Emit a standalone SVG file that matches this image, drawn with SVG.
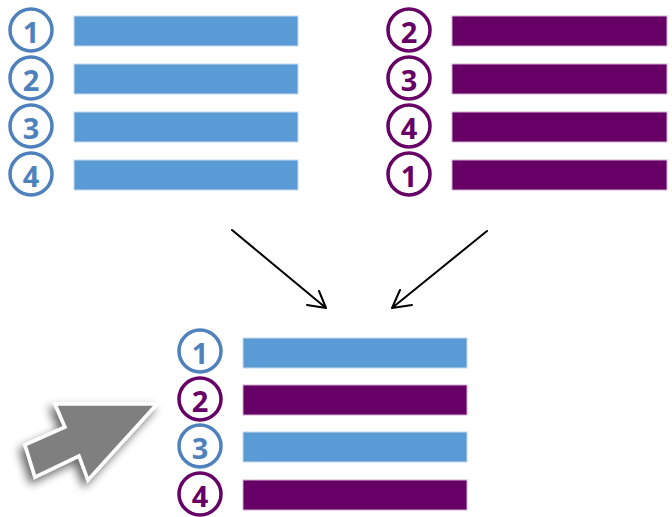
<svg xmlns="http://www.w3.org/2000/svg" width="672" height="517" viewBox="0 0 672 517">
  <defs>
    <style>
      .bar-b { fill: #5B9BD5; stroke: #c5d9ee; stroke-width: 1; }
      .bar-p { fill: #660066; stroke: #d0b0d0; stroke-width: 1; }
      .ring-b { fill: #ffffff; stroke: #4F81BD; stroke-width: 3.5; }
      .ring-p { fill: #ffffff; stroke: #660066; stroke-width: 3.5; }
      .num { font-family: "Open Sans", "Liberation Sans", sans-serif; font-weight: bold; font-size: 29px; text-anchor: middle; dominant-baseline: central; }
      .num-b { fill: #4F81BD; }
      .num-p { fill: #660066; }
      .conn { fill: none; stroke: #000000; stroke-width: 2; stroke-linecap: round; stroke-linejoin: round; }
    </style>
    <filter id="softShadow" x="-40%" y="-40%" width="180%" height="180%">
      <feGaussianBlur in="SourceAlpha" stdDeviation="5"/>
      <feOffset dx="-4" dy="5" result="blur"/>
      <feComponentTransfer><feFuncA type="linear" slope="0.6"/></feComponentTransfer>
      <feMerge><feMergeNode/><feMergeNode in="SourceGraphic"/></feMerge>
    </filter>
  </defs>
  <rect width="672" height="517" fill="#ffffff"/>

  <!-- first list: 1,2,3,4 (blue) -->
  <g id="list-a">
    <g id="a1"><rect class="bar-b" x="74" y="16" width="224" height="30"/><circle class="ring-b" cx="31" cy="30" r="21"/><text class="num num-b" x="31" y="31">1</text></g>
    <g id="a2"><rect class="bar-b" x="74" y="64" width="224" height="30"/><circle class="ring-b" cx="31" cy="78" r="21"/><text class="num num-b" x="31" y="79">2</text></g>
    <g id="a3"><rect class="bar-b" x="74" y="112" width="224" height="30"/><circle class="ring-b" cx="31" cy="126" r="21"/><text class="num num-b" x="31" y="127">3</text></g>
    <g id="a4"><rect class="bar-b" x="74" y="160" width="224" height="30"/><circle class="ring-b" cx="31" cy="174" r="21"/><text class="num num-b" x="31" y="175">4</text></g>
  </g>

  <!-- second list: 2,3,4,1 (purple) -->
  <g id="list-b">
    <g id="b2"><rect class="bar-p" x="452" y="16" width="215" height="30"/><circle class="ring-p" cx="409" cy="30" r="21"/><text class="num num-p" x="409" y="31">2</text></g>
    <g id="b3"><rect class="bar-p" x="452" y="64" width="215" height="30"/><circle class="ring-p" cx="409" cy="78" r="21"/><text class="num num-p" x="409" y="79">3</text></g>
    <g id="b4"><rect class="bar-p" x="452" y="112" width="215" height="30"/><circle class="ring-p" cx="409" cy="126" r="21"/><text class="num num-p" x="409" y="127">4</text></g>
    <g id="b1"><rect class="bar-p" x="452" y="160" width="215" height="30"/><circle class="ring-p" cx="409" cy="174" r="21"/><text class="num num-p" x="409" y="175">1</text></g>
  </g>

  <!-- merged list -->
  <g id="list-merged">
    <g id="m1"><rect class="bar-b" x="243" y="338" width="224" height="30"/><circle class="ring-b" cx="200" cy="351" r="21"/><text class="num num-b" x="200" y="352">1</text></g>
    <g id="m2"><rect class="bar-p" x="243" y="385" width="224" height="30"/><circle class="ring-p" cx="200" cy="399" r="21"/><text class="num num-p" x="200" y="400">2</text></g>
    <g id="m3"><rect class="bar-b" x="243" y="432" width="224" height="30"/><circle class="ring-b" cx="200" cy="446" r="21"/><text class="num num-b" x="200" y="447">3</text></g>
    <g id="m4"><rect class="bar-p" x="243" y="480" width="224" height="30"/><circle class="ring-p" cx="200" cy="494" r="21"/><text class="num num-p" x="200" y="495">4</text></g>
  </g>

  <!-- connectors -->
  <g id="connectors">
    <path class="conn" d="M232,230 L326,308 M307,305 L326,308 L319,291"/>
    <path class="conn" d="M487,231 L392,308 M412,305 L392,308 L400,290"/>
  </g>

  <!-- pointer arrow -->
  <g id="pointer" filter="url(#softShadow)">
    <polygon points="55,404 157,404 88,480 79,456 35,477 25,445 65,427" fill="#7f7f7f" stroke="#ffffff" stroke-width="3.5" stroke-linejoin="miter"/>
  </g>
</svg>
